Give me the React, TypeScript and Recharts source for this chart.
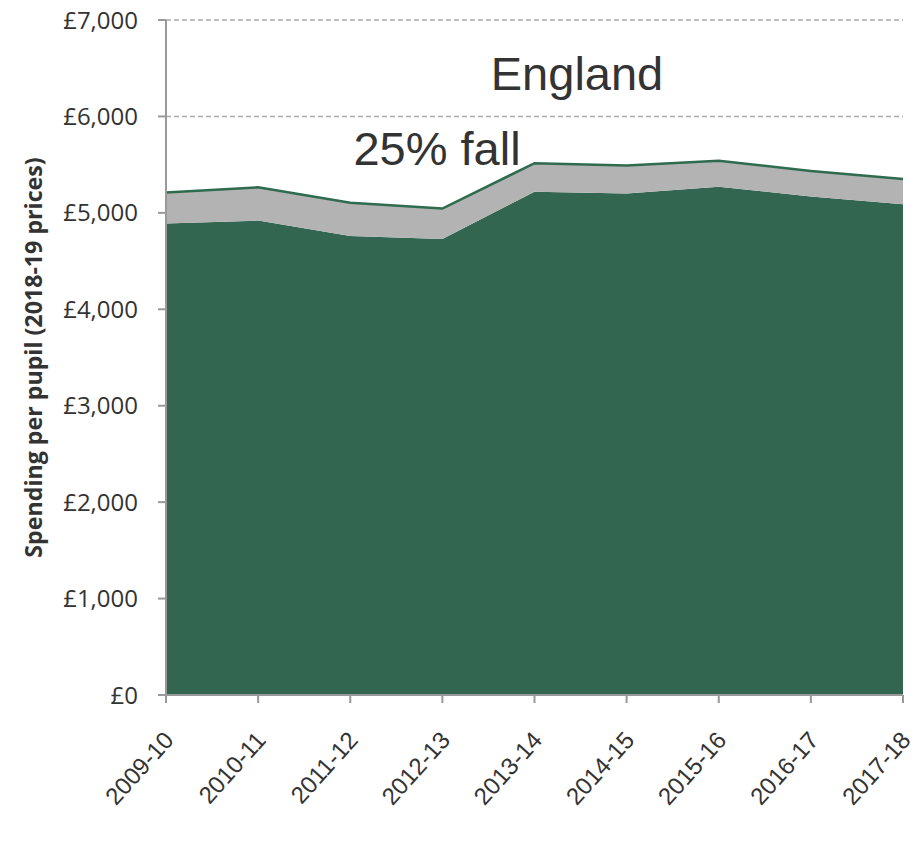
import { Area, AreaChart, CartesianGrid, Customized, XAxis, YAxis } from 'recharts';

const years = ['2009-10', '2010-11', '2011-12', '2012-13', '2013-14', '2014-15', '2015-16', '2016-17', '2017-18'];
const spendingNow = [4890, 4920, 4760, 4730, 5220, 5200, 5270, 5170, 5090];
const fallGap = [320, 345, 345, 315, 295, 290, 270, 265, 260];
const yTicks = [0, 1000, 2000, 3000, 4000, 5000, 6000, 7000];

const data = years.map((year, i) => ({ year, now: spendingNow[i], gap: fallGap[i] }));

const formatPounds = (v: number) => `£${v.toLocaleString('en-GB')}`;

const renderXTick = (props: any) => {
  const { x, y, payload } = props;
  return (
    <g key={payload.value} transform={`translate(${x},${y})`}>
      <text
        x={9}
        y={36}
        transform="rotate(-48 9 36)"
        textAnchor="end"
        style={{ fill: '#333', fontSize: 24, fontFamily: "'Liberation Sans', Arial, sans-serif" }}
      >
        {payload.value}
      </text>
    </g>
  );
};

const Notes = () => (
  <g style={{ fontFamily: "'Liberation Sans', Arial, sans-serif", fill: '#333', fontSize: 47 }}>
    <text x={577} y={90} textAnchor="middle">England</text>
    <text x={437} y={165} textAnchor="middle">25% fall</text>
  </g>
);

export default function App() {
  return (
    <div style={{ position: 'absolute', left: 0, top: 0, width: 916, height: 859, background: '#fff' }}>
      <AreaChart width={916} height={859} data={data} margin={{ top: 20, right: 13, left: 0, bottom: 0 }}>
        <CartesianGrid vertical={false} stroke="#aaa" strokeDasharray="5 3" strokeWidth={1.5} />
        <XAxis
          dataKey="year"
          height={164}
          tick={renderXTick}
          axisLine={{ stroke: '#999', strokeWidth: 2 }}
          tickLine={{ stroke: '#999', strokeWidth: 2 }}
          tickSize={8}
          interval={0}
        />
        <YAxis
          width={166}
          domain={[0, 7000]}
          ticks={yTicks}
          tickFormatter={formatPounds}
          tick={{ fill: '#333', fontSize: 24, fontFamily: "'Open Sans', sans-serif" }}
          axisLine={{ stroke: '#999', strokeWidth: 2 }}
          tickLine={{ stroke: '#999', strokeWidth: 2 }}
          tickSize={8}
          tickMargin={20}
          label={{
            value: 'Spending per pupil (2018-19 prices)',
            angle: -90,
            position: 'insideLeft',
            offset: 34,
            style: { textAnchor: 'middle', fill: '#333', fontSize: 23.2, fontWeight: 700, fontFamily: "'Open Sans', sans-serif" },
          }}
        />
        <Area
          type="linear"
          dataKey="now"
          stackId="a"
          fill="#336650"
          fillOpacity={1}
          stroke="none"
          isAnimationActive={false}
        />
        <Area
          type="linear"
          dataKey="gap"
          stackId="a"
          fill="#b3b3b3"
          fillOpacity={1}
          stroke="#2e6b4f"
          strokeWidth={2.5}
          isAnimationActive={false}
        />
        <Customized component={Notes} />
      </AreaChart>
    </div>
  );
}
